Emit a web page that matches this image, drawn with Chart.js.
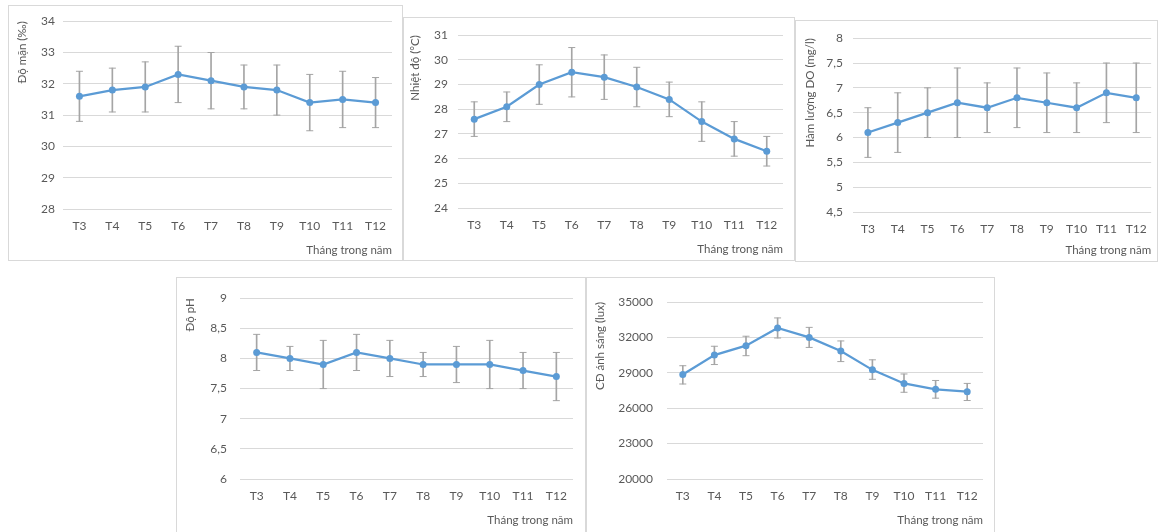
<!DOCTYPE html>
<html lang="vi">
<head>
<meta charset="utf-8">
<script src="https://cdn.jsdelivr.net/npm/chart.js@4.4.1/dist/chart.umd.min.js"></script>
<style>
    body { margin: 0; background: #fff; width: 1160px; height: 532px; overflow: hidden; position: relative; }
    .panel { position: absolute; border: 1px solid #d9d9d9; box-sizing: border-box; }
</style>
</head>
<body>
<div class="panel" style="left:8px;top:5px;width:395px;height:256px"><canvas id="c1"></canvas></div>
<div class="panel" style="left:403px;top:17px;width:392px;height:244px"><canvas id="c2"></canvas></div>
<div class="panel" style="left:795px;top:20px;width:363px;height:242px"><canvas id="c3"></canvas></div>
<div class="panel" style="left:176px;top:277px;width:410px;height:256px"><canvas id="c4"></canvas></div>
<div class="panel" style="left:586px;top:277px;width:409px;height:256px"><canvas id="c5"></canvas></div>
<script>
// Tháng quan trắc
const months = ['T3', 'T4', 'T5', 'T6', 'T7', 'T8', 'T9', 'T10', 'T11', 'T12'];
const xTitle = 'Tháng trong năm';

// Độ mặn (‰): trung bình, cận dưới, cận trên
const salMean = [31.6, 31.8, 31.9, 32.3, 32.1, 31.9, 31.8, 31.4, 31.5, 31.4];
const salLow  = [30.8, 31.1, 31.1, 31.4, 31.2, 31.2, 31.0, 30.5, 30.6, 30.6];
const salHigh = [32.4, 32.5, 32.7, 33.2, 33.0, 32.6, 32.6, 32.3, 32.4, 32.2];

// Nhiệt độ (°C)
const tempMean = [27.6, 28.1, 29.0, 29.5, 29.3, 28.9, 28.4, 27.5, 26.8, 26.3];
const tempLow  = [26.9, 27.5, 28.2, 28.5, 28.4, 28.1, 27.7, 26.7, 26.1, 25.7];
const tempHigh = [28.3, 28.7, 29.8, 30.5, 30.2, 29.7, 29.1, 28.3, 27.5, 26.9];

// Hàm lượng DO (mg/l)
const doMean = [6.1, 6.3, 6.5, 6.7, 6.6, 6.8, 6.7, 6.6, 6.9, 6.8];
const doLow  = [5.6, 5.7, 6.0, 6.0, 6.1, 6.2, 6.1, 6.1, 6.3, 6.1];
const doHigh = [6.6, 6.9, 7.0, 7.4, 7.1, 7.4, 7.3, 7.1, 7.5, 7.5];

// Độ pH
const phMean = [8.1, 8.0, 7.9, 8.1, 8.0, 7.9, 7.9, 7.9, 7.8, 7.7];
const phLow  = [7.8, 7.8, 7.5, 7.8, 7.7, 7.7, 7.6, 7.5, 7.5, 7.3];
const phHigh = [8.4, 8.2, 8.3, 8.4, 8.3, 8.1, 8.2, 8.3, 8.1, 8.1];

// Cường độ ánh sáng (lux)
const luxMean = [28850, 30500, 31300, 32800, 32000, 30850, 29250, 28100, 27600, 27400];
const luxLow  = [28050, 29700, 30450, 31950, 31150, 29950, 28450, 27350, 26850, 26650];
const luxHigh = [29600, 31250, 32100, 33650, 32850, 31700, 30100, 28900, 28350, 28100];

// Trục tung: [min, max, bước]
const salAxis  = [28, 34, 1];
const tempAxis = [24, 31, 1];
const doAxis   = [4.5, 8, 0.5];
const phAxis   = [6, 9, 0.5];
const luxAxis  = [20000, 35000, 3000];

const blue = '#5b9bd5';
const gray = '#a5a5a5';
const textColor = '#595959';
const fontFamily = 'Lato, "Open Sans", sans-serif';

// Tạo một biểu đồ đường có thanh sai số
function makeChart(id, yTitle, mean, low, high, axis, box) {
    const ranges = low.map((v, i) => [v, high[i]]);
    new Chart(document.getElementById(id), {
        type: 'line',
        data: {
            labels: months,
            datasets: [
                {
                    data: mean,
                    borderColor: blue,
                    backgroundColor: blue,
                    borderWidth: 2.25,
                    pointRadius: 3.5,
                    pointBorderWidth: 0,
                    tension: 0,
                    order: 0
                },
                {
                    type: 'bar',
                    data: ranges,
                    backgroundColor: gray,
                    barThickness: 1,
                    order: 3
                },
                {
                    data: high,
                    showLine: false,
                    pointStyle: 'line',
                    pointRadius: 3.5,
                    borderColor: gray,
                    borderWidth: 1,
                    order: 2
                },
                {
                    data: low,
                    showLine: false,
                    pointStyle: 'line',
                    pointRadius: 3.5,
                    borderColor: gray,
                    borderWidth: 1,
                    order: 2
                }
            ]
        },
        options: {
            responsive: true,
            maintainAspectRatio: false,
            animation: false,
            events: [],
            layout: { padding: { left: 0, top: box.top, right: box.right, bottom: 0 } },
            plugins: { legend: { display: false }, tooltip: { enabled: false } },
            scales: {
                x: {
                    offset: true,
                    grid: { display: false, drawTicks: false },
                    border: { display: false },
                    ticks: { color: textColor, padding: 10, font: { family: fontFamily, size: 12 } },
                    title: {
                        display: true, text: xTitle, align: 'end', color: textColor,
                        padding: { top: 0, bottom: box.xt },
                        font: { family: fontFamily, size: 11.5 }
                    },
                    afterFit: s => { s.height = box.xh; }
                },
                y: {
                    min: axis[0], max: axis[1],
                    grid: { color: '#d9d9d9', drawTicks: false },
                    border: { display: false },
                    ticks: {
                        stepSize: axis[2], color: textColor, padding: box.tp,
                        font: { family: fontFamily, size: 12 },
                        callback: v => String(v).replace('.', ',')
                    },
                    title: {
                        display: true, text: yTitle, align: 'end', color: textColor,
                        padding: { top: box.yt, bottom: 0 },
                        font: { family: fontFamily, size: 11.5 }
                    },
                    afterFit: s => { s.width = box.yw; }
                }
            }
        }
    });
}

makeChart('c1', 'Độ mặn (‰)', salMean, salLow, salHigh, salAxis,
    { yw: 54, top: 12, right: 10, xh: 51, tp: 8, yt: 6, xt: 3 });
makeChart('c2', 'Nhiệt độ (°C)', tempMean, tempLow, tempHigh, tempAxis,
    { yw: 54, top: 11, right: 11, xh: 52, tp: 10, yt: 4, xt: 4 });
makeChart('c3', 'Hàm lượng DO (mg/l)', doMean, doLow, doHigh, doAxis,
    { yw: 57, top: 12, right: 4, xh: 49, tp: 10, yt: 7, xt: 4 });
makeChart('c4', 'Độ pH', phMean, phLow, phHigh, phAxis,
    { yw: 63, top: 12, right: 12, xh: 53, tp: 13, yt: 6, xt: 5 });
makeChart('c5', 'CĐ ánh sáng (lux)', luxMean, luxLow, luxHigh, luxAxis,
    { yw: 80, top: 24, right: 11, xh: 53, tp: 14, yt: 6, xt: 5 });
</script>
</body>
</html>
